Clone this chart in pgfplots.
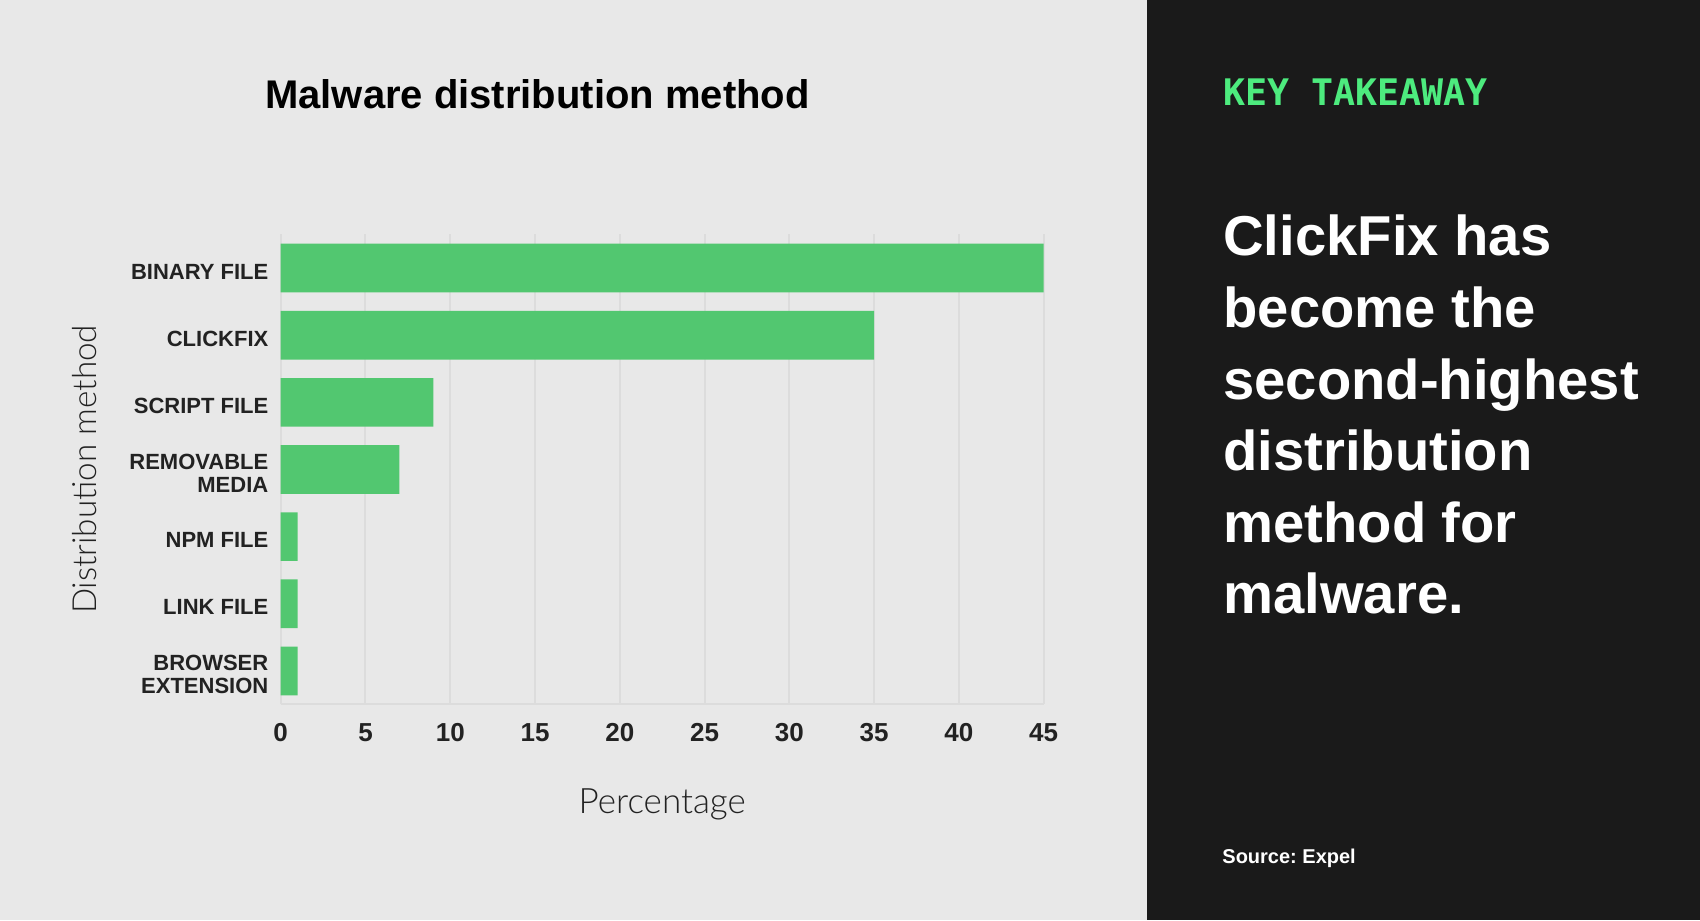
\documentclass[border=0pt]{standalone}
\usepackage{pgfplots}
\pgfplotsset{compat=1.18}
\usepackage{fontspec}
\setmainfont{Liberation Sans}
\newfontfamily\lightfont{Lato Light}
\newfontfamily\monofont{DejaVu Sans Mono}
\frenchspacing

\definecolor{bgc}{HTML}{E8E8E8}
\definecolor{panelc}{HTML}{1A1A1A}
\definecolor{barc}{HTML}{52C770}
\definecolor{gridc}{HTML}{DCDCDC}
\definecolor{textc}{HTML}{222222}
\definecolor{accentc}{HTML}{4DEB7E}

\begin{document}
\begin{tikzpicture}
\path[use as bounding box] (0,0) rectangle (850pt,460pt);
\fill[bgc] (0,0) rectangle (850pt,460pt);
\fill[panelc] (573.5pt,0) rectangle (850pt,460pt);

% chart title
\node[anchor=base, inner sep=0pt, text=black,
      font=\bfseries\fontsize{20}{24}\selectfont] at (268.75pt,405.8pt)
      {Malware distribution method};

\begin{axis}[
  at={(140.35pt,107.75pt)}, anchor=south west,
  scale only axis, width=381.5pt, height=235pt,
  xbar, bar width=24.35pt,
  xmin=0, xmax=45, ymin=-0.5, ymax=6.5,
  xtick={0,5,...,45}, ytick={0,...,6},
  yticklabels={{BROWSER\\EXTENSION},{LINK FILE},{NPM FILE},{REMOVABLE\\MEDIA},{SCRIPT FILE},{CLICKFIX},{BINARY FILE}},
  /pgf/number format/assume math mode=true,
  axis x line*=bottom, axis y line*=left,
  x axis line style={draw=gridc, line width=1pt, -},
  y axis line style={draw=none},
  major tick length=0pt,
  xmajorgrids, major grid style={draw=gridc, line width=1pt},
  xticklabel style={inner sep=0pt, yshift=-9.25pt, text=textc,
    font=\bfseries\fontsize{13}{15}\selectfont},
  yticklabel style={inner sep=0pt, xshift=-6pt, yshift=-1.7pt, align=right, text=textc,
    font=\bfseries\fontsize{11}{11.5}\selectfont},
  xlabel={Percentage}, ylabel={Distribution method},
  x label style={at={(axis description cs:0.5,-0.212)}, anchor=center,
    text=textc, font=\lightfont\fontsize{17.5}{20}\selectfont},
  y label style={at={(axis description cs:-0.2576,0.5)}, anchor=center, rotate=0,
    text=textc, font=\lightfont\fontsize{16.6}{19}\selectfont},
]
\addplot[fill=barc, draw=none] coordinates {
  (1,0) (1,1) (1,2) (7,3) (9,4) (35,5) (45,6)
};
\end{axis}

% side panel
\node[anchor=base west, inner sep=0pt, text=accentc,
      font=\monofont\bfseries\fontsize{18.3}{22}\selectfont] at (611.5pt,407pt)
      {KEY TAKEAWAY};
\foreach \ln [count=\i from 0] in {ClickFix has, become the, second-highest, distribution, method for, malware.}{
  \node[anchor=base west, inner sep=0pt, text=white,
        font=\bfseries\fontsize{28.1}{33}\selectfont] at (611.5pt,{332pt-\i*35.8pt}) {\ln};
}
\node[anchor=base west, inner sep=0pt, text=white,
      font=\bfseries\fontsize{10}{12}\selectfont] at (611pt,28.3pt) {Source: Expel};
\end{tikzpicture}
\end{document}
